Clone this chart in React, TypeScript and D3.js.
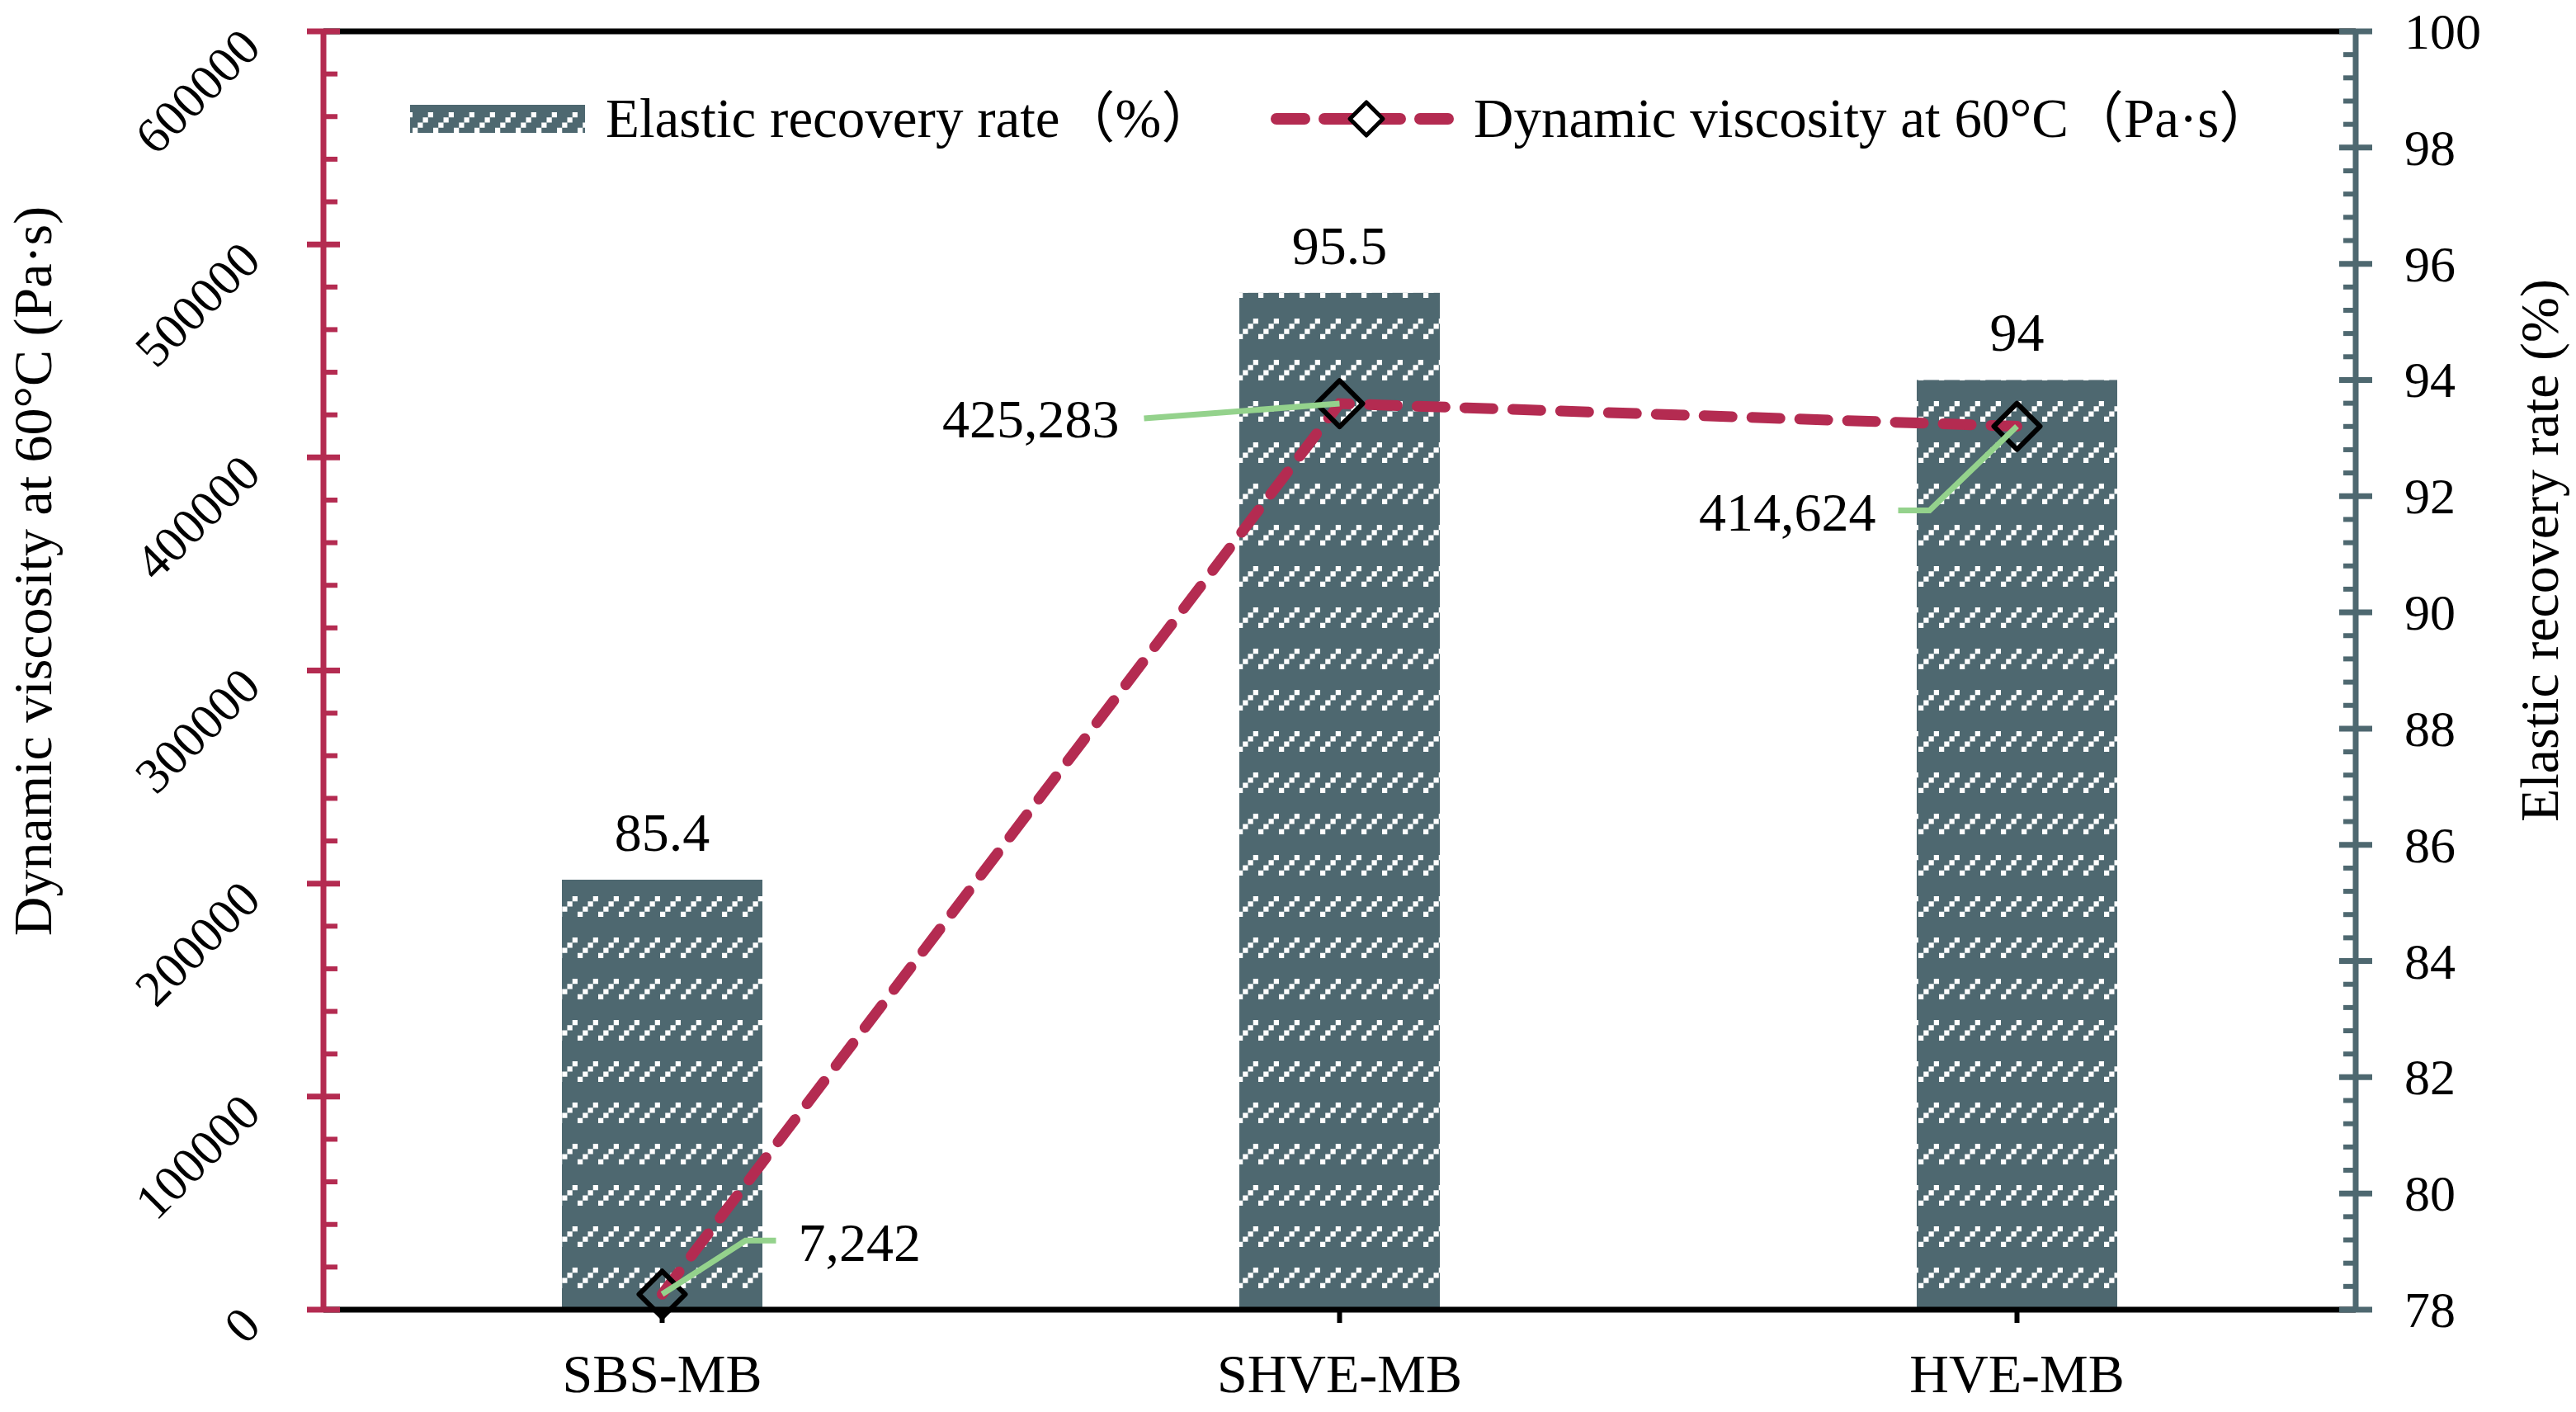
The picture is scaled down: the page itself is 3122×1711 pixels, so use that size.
import { scaleBand, scaleLinear, range, line } from 'd3';

// chart data
const categories = ['SBS-MB', 'SHVE-MB', 'HVE-MB'];
const elasticRecovery = [85.4, 95.5, 94];
const viscosity = [7242, 425283, 414624];
const viscosityLabels = ['7,242', '425,283', '414,624'];
const leftTicks = [0, 100000, 200000, 300000, 400000, 500000, 600000];
const rightTicks = [78, 80, 82, 84, 86, 88, 90, 92, 94, 96, 98, 100];

// label placement relative to each point: label anchor and leader elbow
const labelPlacement = [
  { dx: 165, dy: -63, anchor: 'start', leader: [[101, -65], [138, -65]] },
  { dx: -267, dy: 18, anchor: 'end', leader: [[-237, 18]] },
  { dx: -171, dy: 104, anchor: 'end', leader: [[-106, 102], [-144, 102]] },
];

const W = 3122;
const H = 1711;
const M = { left: 392, right: 2855, top: 38, bottom: 1587 };

const CRIMSON = '#B42B51';
const SLATE = '#4E6870';
const GREEN = '#94D28C';
const FONT = '"Liberation Serif", "Times New Roman", "Noto Sans CJK SC", serif';

const diamond = (cx: number, cy: number, r: number) =>
  `M${cx},${cy - r}L${cx + r},${cy}L${cx},${cy + r}L${cx - r},${cy}Z`;

export default function App() {
  const x = scaleBand<string>().domain(categories).range([M.left, M.right]).padding(0);
  const yLeft = scaleLinear().domain([0, 600000]).range([M.bottom, M.top]);
  const yRight = scaleLinear().domain([78, 100]).range([M.bottom, M.top]);
  const barW = x.bandwidth() * 0.296;
  const cx = (c: string) => (x(c) ?? 0) + x.bandwidth() / 2;

  const leftMinor = range(0, 31).map((i) => i * 20000).filter((v) => v % 100000 !== 0);
  const rightMinor = range(0, 56).map((i) => 78 + i * 0.4).filter((_, i) => i % 5 !== 0);

  const pts: [number, number][] = categories.map((c, i) => [cx(c), yLeft(viscosity[i])]);
  const linePath = line()(pts) ?? '';

  return (
    <svg
      width={W}
      height={H}
      viewBox={`0 0 ${W} ${H}`}
      style={{ position: 'absolute', left: 0, top: 0, background: '#fff' }}
      fontFamily={FONT}
    >
      <defs>
        <pattern id="dashUp" patternUnits="userSpaceOnUse" x={0} y={36} width={25} height={50}>
          <rect x={0} y={0} width={25} height={50} fill={SLATE} />
          {[0, 1, 2, 3].map((k) => (
            <rect key={k} x={18.75 - k * 6.25} y={k * 6.25} width={6.25} height={6.25} fill="#fff" />
          ))}
        </pattern>
      </defs>
      <rect x={0} y={0} width={W} height={H} fill="#fff" />

      {/* bars */}
      {categories.map((c, i) => (
        <rect
          key={c}
          x={cx(c) - barW / 2}
          y={yRight(elasticRecovery[i])}
          width={barW}
          height={yRight(78) - yRight(elasticRecovery[i])}
          fill="url(#dashUp)"
        />
      ))}

      {/* frame */}
      <line x1={M.left} x2={M.right} y1={M.top} y2={M.top} stroke="#000" strokeWidth={7} />
      <line x1={M.left} x2={M.right} y1={M.bottom} y2={M.bottom} stroke="#000" strokeWidth={7} />
      {categories.map((c) => (
        <line key={c} x1={cx(c)} x2={cx(c)} y1={M.bottom} y2={M.bottom + 16} stroke="#000" strokeWidth={6} />
      ))}

      {/* left axis */}
      <line x1={M.left} x2={M.left} y1={M.top} y2={M.bottom} stroke={CRIMSON} strokeWidth={7} />
      {leftTicks.map((t) => (
        <line key={t} x1={M.left - 20} x2={M.left + 20} y1={yLeft(t)} y2={yLeft(t)} stroke={CRIMSON} strokeWidth={7} />
      ))}
      {leftMinor.map((t) => (
        <line key={t} x1={M.left} x2={M.left + 17} y1={yLeft(t)} y2={yLeft(t)} stroke={CRIMSON} strokeWidth={6} />
      ))}
      {leftTicks.map((t) => (
        <text
          key={t}
          transform={`translate(${M.left - 88},${yLeft(t) + 8}) rotate(-45)`}
          textAnchor="end"
          dominantBaseline="central"
          fontSize={61}
        >
          {t}
        </text>
      ))}
      <text transform={`translate(62,${692}) rotate(-90)`} textAnchor="middle" fontSize={66}>
        Dynamic viscosity at 60°C (Pa·s)
      </text>

      {/* right axis */}
      <line x1={M.right} x2={M.right} y1={M.top} y2={M.bottom} stroke={SLATE} strokeWidth={7} />
      {rightTicks.map((t) => (
        <line key={t} x1={M.right - 20} x2={M.right + 20} y1={yRight(t)} y2={yRight(t)} stroke={SLATE} strokeWidth={7} />
      ))}
      {rightMinor.map((t) => (
        <line key={t} x1={M.right - 15} x2={M.right} y1={yRight(t)} y2={yRight(t)} stroke={SLATE} strokeWidth={6} />
      ))}
      {rightTicks.map((t) => (
        <text key={t} x={M.right + 59} y={yRight(t)} dominantBaseline="central" fontSize={62}>
          {t}
        </text>
      ))}
      <text transform={`translate(3100,${667}) rotate(-90)`} textAnchor="middle" fontSize={66}>
        Elastic recovery rate (%)
      </text>

      {/* category labels */}
      {categories.map((c) => (
        <text key={c} x={cx(c)} y={1687} textAnchor="middle" fontSize={66}>
          {c}
        </text>
      ))}

      {/* bar value labels */}
      {categories.map((c, i) => (
        <text key={c} x={cx(c)} y={yRight(elasticRecovery[i]) - 35} textAnchor="middle" fontSize={66}>
          {elasticRecovery[i]}
        </text>
      ))}

      {/* viscosity line */}
      <path
        d={linePath}
        fill="none"
        stroke={CRIMSON}
        strokeWidth={13}
        strokeDasharray="34 24"
        strokeLinecap="round"
      />
      {pts.map(([px, py], i) => (
        <path key={i} d={diamond(px, py, 28)} fill="none" stroke="#000" strokeWidth={6} strokeLinejoin="round" />
      ))}

      {/* leader lines and data labels */}
      {pts.map(([px, py], i) => {
        const p = labelPlacement[i];
        const d = [[px, py], ...p.leader.map(([lx, ly]) => [px + lx, py + ly])]
          .map(([a, b], k) => `${k ? 'L' : 'M'}${a},${b}`)
          .join('');
        return (
          <g key={i}>
            <path d={d} fill="none" stroke={GREEN} strokeWidth={7} />
            <text
              x={px + p.dx}
              y={py + p.dy}
              textAnchor={p.anchor as 'start' | 'end'}
              dominantBaseline="central"
              fontSize={66}
            >
              {viscosityLabels[i]}
            </text>
          </g>
        );
      })}

      {/* legend */}
      <rect x={497} y={127} width={212} height={34} fill="url(#dashUp)" />
      <text x={734} y={166} fontSize={67}>
        Elastic recovery rate（%）
      </text>
      <line
        x1={1547}
        x2={1758}
        y1={144}
        y2={144}
        stroke={CRIMSON}
        strokeWidth={14}
        strokeDasharray="34 24"
        strokeLinecap="round"
      />
      <path d={diamond(1656, 144, 20)} fill="#fff" stroke="#000" strokeWidth={5} strokeLinejoin="round" />
      <text x={1786} y={166} fontSize={67}>
        Dynamic viscosity at 60°C（Pa·s）
      </text>
    </svg>
  );
}
